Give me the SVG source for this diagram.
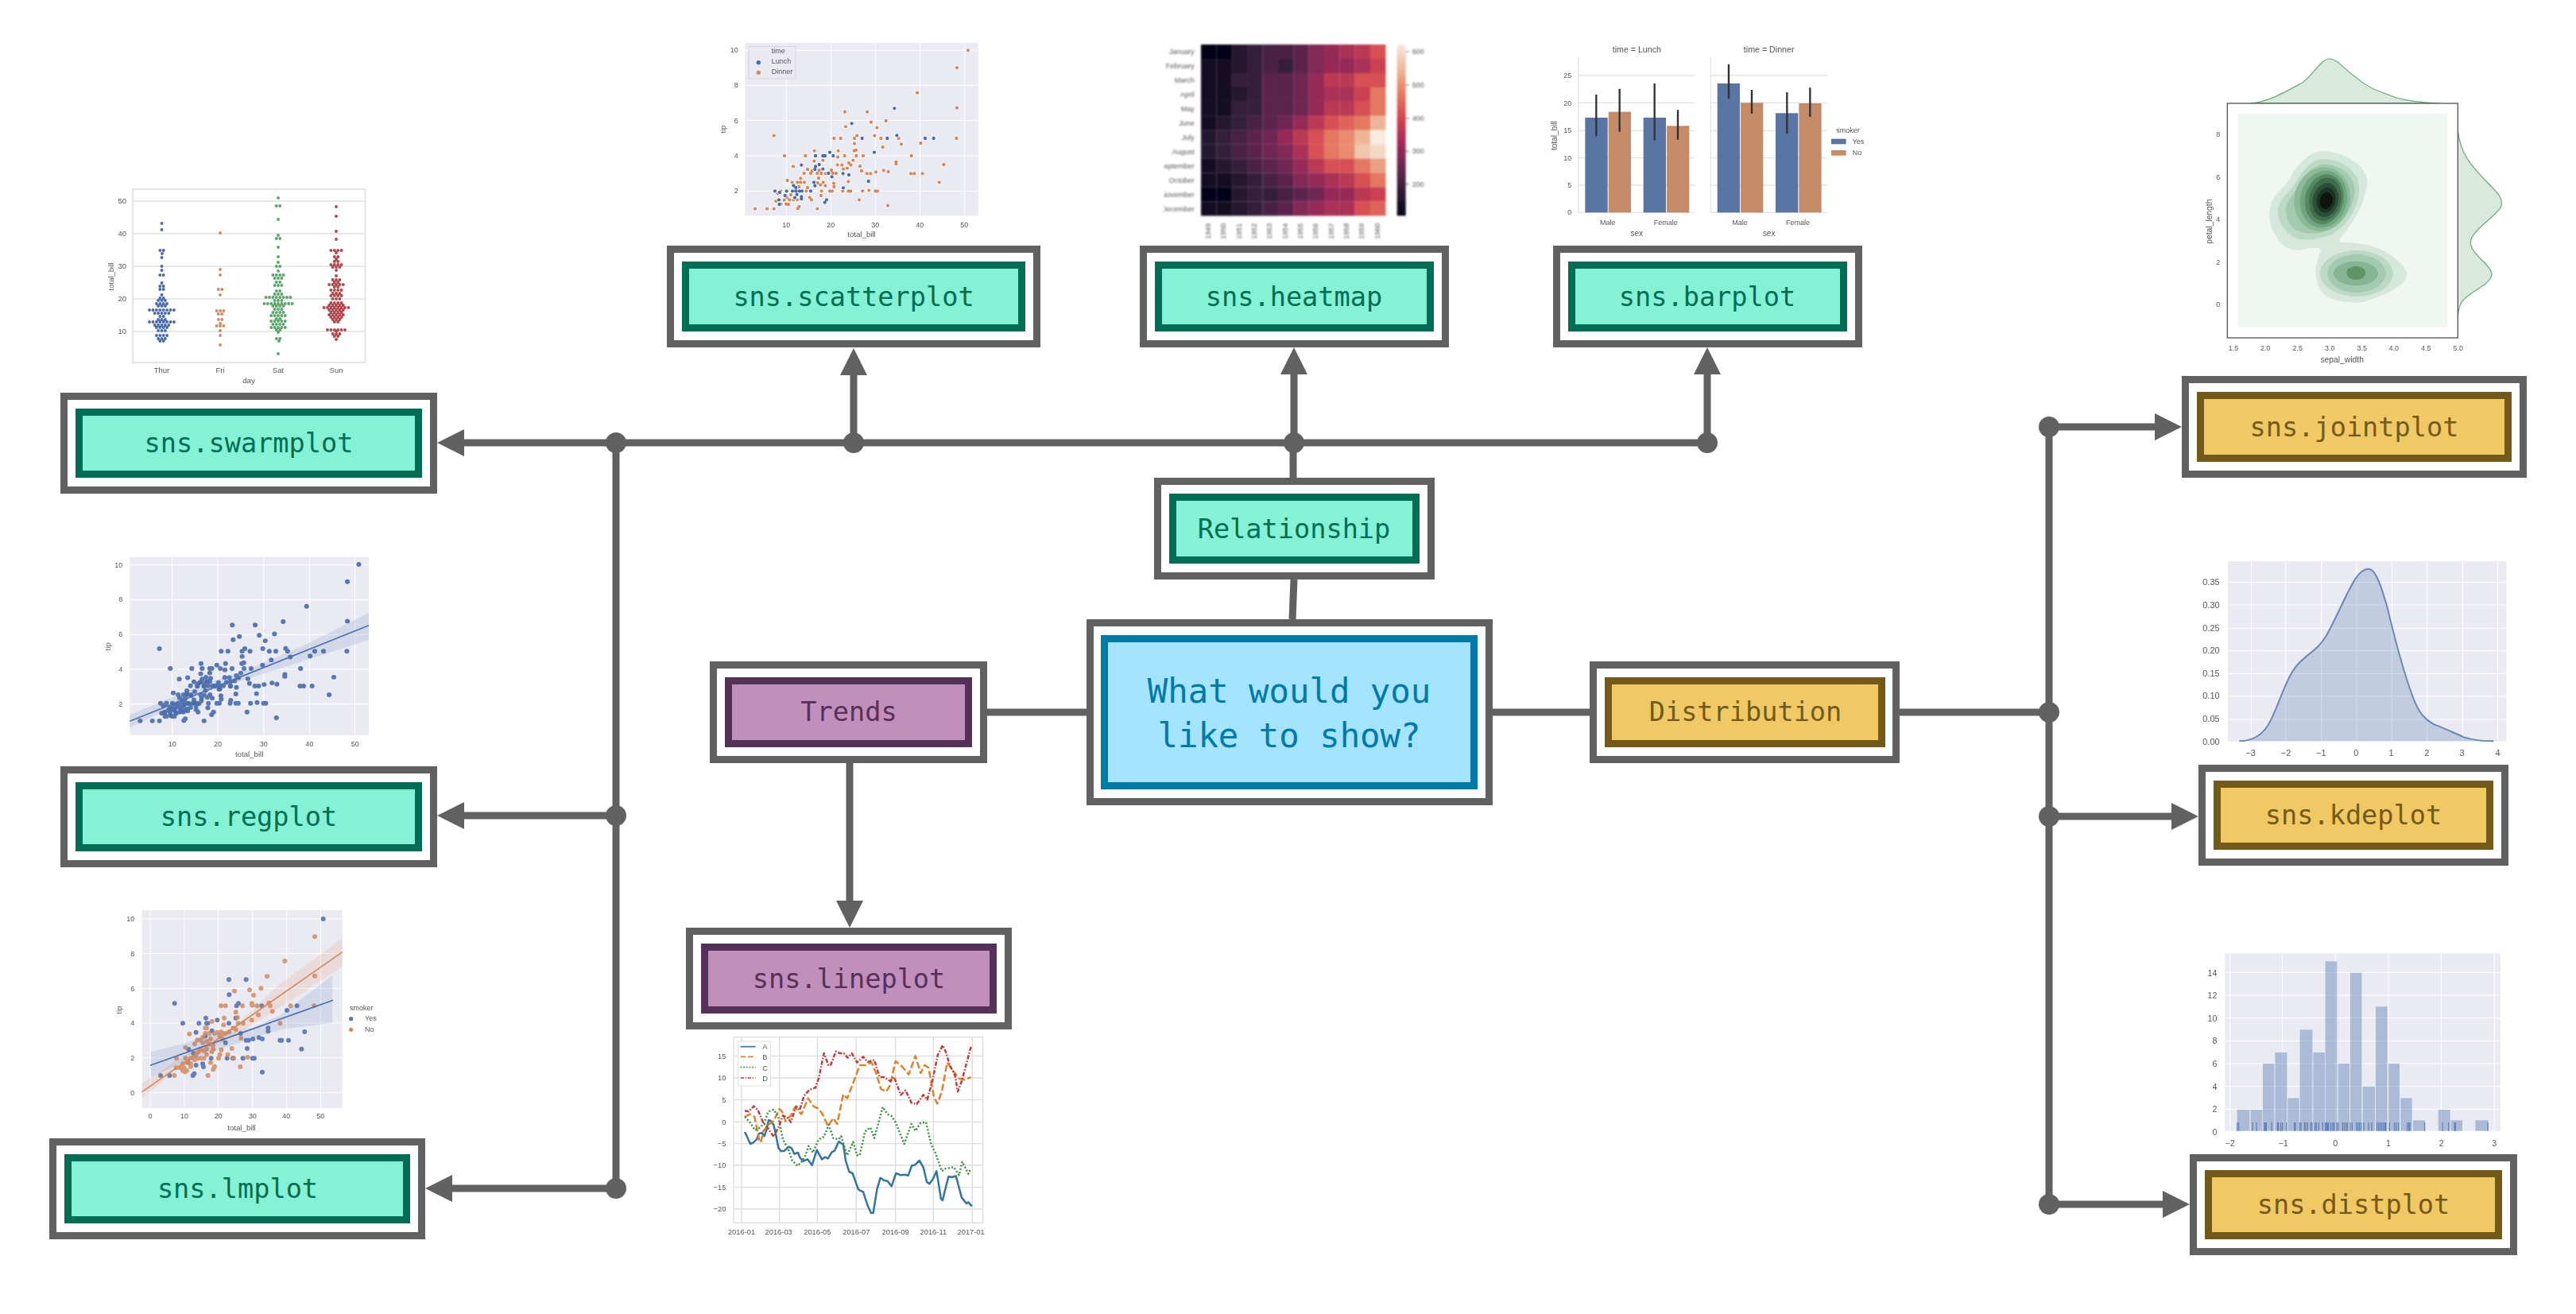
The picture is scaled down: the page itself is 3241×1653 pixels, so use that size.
<svg xmlns="http://www.w3.org/2000/svg" width="3241" height="1653" viewBox="0 0 3241 1653">
<style>
.o{fill:#fff;stroke:#616161;stroke-width:9}
.i{stroke-width:9}
.n{font-family:"DejaVu Sans Mono","Liberation Mono",monospace;font-size:33.6px;text-anchor:middle}
.gt .i{fill:#85f2d6;stroke:#006e54}.gt text{fill:#006e54}
.bl .i{fill:#a4e4ff;stroke:#007aa8}.bl text{fill:#007aa8;font-size:42.3px}
.au .i{fill:#f0c965;stroke:#745a19}.au text{fill:#745a19}
.pu .i{fill:#c18fbb;stroke:#55315a}.pu text{fill:#55315a}
.ln{fill:none;stroke:#616161;stroke-width:9}
.ar{marker-end:url(#a)}
.dot{fill:#616161}
.p text{font-family:"Liberation Sans",Arial,sans-serif;fill:#555}
.f27 text{font-size:27px}
.e{text-anchor:end}.m{text-anchor:middle}
.bg{fill:#eaeaf2}
.gw{stroke:#fff;stroke-width:3;fill:none}
.d{fill:none;stroke-linecap:round}
.ob{stroke:#4a6cab}.oo{stroke:#d28a5f}.ow{stroke:#fff}
.hm rect{width:58.6px;height:54.4px}
.l0{fill:#03051a}.l1{fill:#140c27}.l2{fill:#261333}.l3{fill:#381a40}.l4{fill:#4d1b48}.l5{fill:#611e51}.l6{fill:#761d57}.l7{fill:#8b1b58}.l8{fill:#a11959}.l9{fill:#b51b56}.l10{fill:#c7254d}.l11{fill:#d92f45}.l12{fill:#e54045}.l13{fill:#eb584a}.l14{fill:#f16f4f}.l15{fill:#f48560}.l16{fill:#f59b76}.l17{fill:#f6b28c}.l18{fill:#f7c4a6}.l19{fill:#f8d8be}.l20{fill:#faebdd}
</style>
<defs>
<marker id="a" markerUnits="userSpaceOnUse" markerWidth="34" markerHeight="34" refX="0" refY="17" orient="auto"><path d="M0 0L34 17L0 34z" fill="#616161"/></marker>
<filter id="b" x="-3%" y="-3%" width="106%" height="106%"><feGaussianBlur stdDeviation=".6"/></filter>
<filter id="bh" x="-3%" y="-3%" width="106%" height="106%"><feGaussianBlur stdDeviation="1"/><feColorMatrix type="saturate" values=".82"/></filter>
<linearGradient id="cb" x1="0" y1="0" x2="0" y2="1"><stop offset="0" stop-color="#faebdd"/><stop offset=".143" stop-color="#f6b48f"/><stop offset=".286" stop-color="#f37651"/><stop offset=".429" stop-color="#e13342"/><stop offset=".571" stop-color="#ad1759"/><stop offset=".714" stop-color="#701f57"/><stop offset=".857" stop-color="#35193e"/><stop offset="1" stop-color="#03051a"/></linearGradient>
<clipPath id="mc"><rect x="103" y="70" width="130" height="660"/></clipPath>
<path id="tO" d="M1014 100h0M972 166h0M822 260h0M972 317h0M970 432h0M549 332h0M633 332h0M704 366h0M648 371h0M552 388h0M670 392h0M281 422h0M595 422h0M661 422h0M508 432h0M533 432h0M585 432h0M685 432h0M752 432h0M585 452h0M762 454h0M692 465h0M835 450h0M321 498h0M400 498h0M434 479h0M524 479h0M548 498h0M618 498h0M800 498h0M592 498h0M584 479h0M591 476h0M466 515h0M433 518h0M522 503h0M580 515h0M564 525h0M572 533h0M742 521h0M742 528h0M922 531h0M606 537h0M354 538h0M408 549h0M452 552h0M498 552h0M521 532h0M538 533h0M543 548h0M558 545h0M612 555h0M695 553h0M713 558h0M632 565h0M646 565h0M666 559h0M798 565h0M811 565h0M842 565h0M395 564h0M420 564h0M445 564h0M460 564h0M476 565h0M503 564h0M516 564h0M425 555h0M382 583h0M450 582h0M332 591h0M350 598h0M370 598h0M382 598h0M396 598h0M562 595h0M467 598h0M507 602h0M446 600h0M457 608h0M475 611h0M408 618h0M508 615h0M375 615h0M905 598h0M403 631h0M461 631h0M492 631h0M501 631h0M541 631h0M562 631h0M571 631h0M616 631h0M640 628h0M664 631h0M672 631h0M307 631h0M350 631h0M376 631h0M459 648h0M416 655h0M423 664h0M289 669h0M320 665h0M340 664h0M355 664h0M369 664h0M603 664h0M711 686h0M308 680h0M327 680h0M336 681h0M376 690h0M371 697h0M210 698h0M255 698h0M281 698h0M445 698h0M320 648h0M345 645h0M330 655h0M295 640h0"/>
<path id="tB" d="M736 319h0M575 376h0M614 432h0M709 432h0M745 421h0M852 432h0M884 432h0M660 485h0M492 485h0M505 498h0M438 498h0M466 498h0M474 498h0M385 533h0M452 531h0M438 538h0M436 549h0M466 548h0M487 564h0M500 577h0M542 565h0M564 570h0M638 594h0M543 619h0M432 598h0M436 611h0M355 610h0M364 618h0M420 631h0M285 631h0M303 636h0M329 631h0M351 631h0M364 631h0M377 631h0M387 631h0M323 648h0M368 644h0M360 656h0M385 652h0M385 660h0M300 664h0M302 681h0M480 664h0M473 674h0"/>
</defs>
<rect width="3241" height="1653" fill="#fff"/>

<g id="connectors" class="ln">
<path d="M775 557H584" class="ar"/><path d="M775 557H2148"/>
<path d="M1074 557V472" class="ar"/><path d="M1628 557V471" class="ar"/><path d="M2148 557V471" class="ar"/>
<path d="M1627 601V557"/><path d="M1626 779L1628 729"/>
<path d="M775 557V1495"/><path d="M775 1026H584" class="ar"/><path d="M775 1495H569" class="ar"/>
<path d="M1242 896H1367"/><path d="M1878 896H2000"/><path d="M2390 896H2578"/>
<path d="M1069 960V1133" class="ar"/>
<path d="M2578 537V1515"/><path d="M2578 537H2711" class="ar"/><path d="M2578 1027H2732" class="ar"/><path d="M2578 1515H2721" class="ar"/>
<g class="dot" stroke="none"><circle cx="775" cy="557" r="13"/><circle cx="1074" cy="557" r="13"/><circle cx="1628" cy="557" r="13"/><circle cx="2148" cy="557" r="13"/><circle cx="775" cy="1026" r="13"/><circle cx="775" cy="1495" r="13"/><circle cx="2578" cy="537" r="13"/><circle cx="2578" cy="896" r="13"/><circle cx="2578" cy="1027" r="13"/><circle cx="2578" cy="1515" r="13"/></g>
</g>

<g id="center" class="bl"><rect class="o" x="1371.5" y="783.5" width="502" height="225"/><rect class="i" x="1389.5" y="803.5" width="465" height="185"/><text class="n" x="1622" y="884">What would you</text><text class="n" x="1622" y="940">like to show?</text></g>
<g id="relationship" class="gt"><rect class="o" x="1456.5" y="605.5" width="344" height="119"/><rect class="i" x="1475.5" y="625.5" width="306" height="79"/><text class="n" x="1628" y="677">Relationship</text></g>
<g id="trends" class="pu"><rect class="o" x="897.5" y="836.5" width="340" height="119"/><rect class="i" x="916.5" y="856.5" width="302" height="79"/><text class="n" x="1068" y="907">Trends</text></g>
<g id="distribution" class="au"><rect class="o" x="2004.5" y="836.5" width="381" height="119"/><rect class="i" x="2023.5" y="856.5" width="344" height="79"/><text class="n" x="2196" y="907">Distribution</text></g>
<g id="swarmplot" class="gt"><rect class="o" x="80.5" y="498.5" width="465" height="118"/><rect class="i" x="99.5" y="518.5" width="427" height="78"/><text class="n" x="313" y="569">sns.swarmplot</text></g>
<g id="regplot" class="gt"><rect class="o" x="80.5" y="968.5" width="465" height="118"/><rect class="i" x="99.5" y="988.5" width="427" height="78"/><text class="n" x="313" y="1039">sns.regplot</text></g>
<g id="lmplot" class="gt"><rect class="o" x="66.5" y="1436.5" width="464" height="118"/><rect class="i" x="85.5" y="1456.5" width="426" height="78"/><text class="n" x="299" y="1507">sns.lmplot</text></g>
<g id="scatterplot" class="gt"><rect class="o" x="843.5" y="313.5" width="461" height="119"/><rect class="i" x="862.5" y="333.5" width="423" height="79"/><text class="n" x="1074" y="385">sns.scatterplot</text></g>
<g id="heatmap" class="gt"><rect class="o" x="1438.5" y="313.5" width="380" height="119"/><rect class="i" x="1457.5" y="333.5" width="342" height="79"/><text class="n" x="1628" y="385">sns.heatmap</text></g>
<g id="barplot" class="gt"><rect class="o" x="1958.5" y="313.5" width="380" height="119"/><rect class="i" x="1977.5" y="333.5" width="342" height="79"/><text class="n" x="2148" y="385">sns.barplot</text></g>
<g id="lineplot" class="pu"><rect class="o" x="867.5" y="1171.5" width="401" height="119"/><rect class="i" x="886.5" y="1191.5" width="363" height="79"/><text class="n" x="1068" y="1243">sns.lineplot</text></g>
<g id="jointplot" class="au"><rect class="o" x="2749.5" y="477.5" width="425" height="119"/><rect class="i" x="2768.5" y="497.5" width="387" height="79"/><text class="n" x="2962" y="549">sns.jointplot</text></g>
<g id="kdeplot" class="au"><rect class="o" x="2770.5" y="966.5" width="381" height="118"/><rect class="i" x="2789.5" y="986.5" width="343" height="78"/><text class="n" x="2961" y="1037">sns.kdeplot</text></g>
<g id="distplot" class="au"><rect class="o" x="2759.5" y="1456.5" width="403" height="118"/><rect class="i" x="2778.5" y="1476.5" width="365" height="78"/><text class="n" x="2961" y="1527">sns.distplot</text></g>

<!-- swarm -->
<g id="plot-swarm" class="p" filter="url(#b)" font-size="9.5">
<rect x="167" y="238" width="292.5" height="218" fill="#fff" stroke="#ddd" stroke-width="1.5"/>
<path d="M167 253H459M167 294H459M167 335H459M167 376H459M167 417H459" stroke="#e8e8e8" stroke-width="1.8"/>
<g class="d" stroke-width="3.9" stroke-dasharray="0 4.4">
<path stroke="#4a6aa8" d="M203.5 281h.1M203.5 289h.1M201.3 315h4.5M204 319h.1M203.5 324h.1M203.5 335h.1M203.5 340h.1M201.3 346h4.5M203.5 356h.1M201.3 360h4.5M201.3 364h4.5M203.5 371h.1M201.3 375h4.5M199.1 378h8.9M196.9 382h13.3M199.1 385h8.9M188.1 390h30.9M194.7 394h17.7M201.3 398h4.5M199.1 402h8.9M188.1 405h30.9M194.7 409h17.7M196.9 412h13.3M199.1 416h8.9M196.9 422h13.3M199.1 426h8.9M201.3 429h4.5"/>
<path stroke="#cf8a60" d="M277 293h.1M277 339h.1M277 346h.1M274.8 364h4.5M277 371h.1M272.6 391h8.9M274.8 395h4.5M274.8 402h4.5M277 407h.1M272.6 410h8.9M277 416h.1M277 422h.1M277 434h.1"/>
<path stroke="#5aa56a" d="M350 249h.1M347.8 259h4.5M350 276h.1M350 296h.1M347.8 300h4.5M350 311h.1M350 323h.1M350 330h.1M347.8 335h4.5M350 341h.1M343.4 346h13.3M345.6 350h8.9M347.8 355h4.5M345.6 359h8.9M347.8 366h4.5M345.6 370h8.9M334.6 374h30.9M345.6 378h8.9M332.4 382h35.3M343.4 385h13.3M345.6 389h8.9M343.4 393h13.3M341.2 397h17.7M347.8 401h4.5M341.2 404h17.7M343.4 408h13.3M341.2 412h17.7M347.8 415h4.5M350 418h.1M347.8 426h4.5M351 429h.1M350 445h.1"/>
<path stroke="#b1474c" d="M423 260h.1M423 272h.1M423 291h.1M423 301h.1M416.4 315h13.3M423 318h.1M420.8 323h4.5M423 326h.1M420.8 329h4.5M416.4 333h13.3M418.6 336h8.9M423 340h.1M423 347h.1M418.6 352h8.9M420.8 355h4.5M414.2 358h17.7M420.8 361h4.5M416.4 365h13.3M418.6 369h8.9M416.4 372h13.3M418.6 376h8.9M416.4 381h13.3M414.2 384h17.7M407.6 387h30.9M414.2 390h17.7M416.4 393h13.3M414.2 396h17.7M416.4 399h13.3M418.6 402h8.9M420.8 405h4.5M412 415h22.1M423 417h.1M418.6 420h8.9M420.8 423h4.5M423 427h.1"/>
</g>
<g class="e"><text x="159" y="256">50</text><text x="159" y="297">40</text><text x="159" y="338">30</text><text x="159" y="379">20</text><text x="159" y="420">10</text></g>
<g class="m"><text x="203.5" y="469">Thur</text><text x="277" y="469">Fri</text><text x="350" y="469">Sat</text><text x="423" y="469">Sun</text><text x="313" y="482">day</text><text transform="translate(143 348) rotate(-90)">total_bill</text></g>
</g>

<!-- scatter -->
<g id="plot-scatter" class="p f27" filter="url(#b)"><g transform="translate(880 30) scale(.33333)">
<rect class="bg" x="172" y="72" width="880" height="652"/>
<path class="gw" d="M328 72V724M496 72V724M664 72V724M832 72V724M1000 72V724M172 100H1052M172 232H1052M172 365H1052M172 498H1052M172 631H1052"/>
<g class="d">
<use href="#tO" class="ow" stroke-width="17"/><use href="#tO" class="oo" stroke-width="13"/>
<use href="#tB" class="ow" stroke-width="17"/><use href="#tB" class="ob" stroke-width="13"/>
</g>
<rect x="186" y="85" width="177" height="122" fill="#eaeaf2" stroke="#ccc" stroke-width="2"/>
<circle cx="223" cy="146" r="8" fill="#4a6cab"/><circle cx="223" cy="184" r="8" fill="#d28a5f"/>
<text x="272" y="112">time</text><text x="272" y="151">Lunch</text><text x="272" y="190">Dinner</text>
<g class="e"><text x="146" y="108">10</text><text x="146" y="241">8</text><text x="146" y="374">6</text><text x="146" y="507">4</text><text x="146" y="640">2</text></g>
<g class="m"><text x="328" y="768">10</text><text x="496" y="768">20</text><text x="664" y="768">30</text><text x="832" y="768">40</text><text x="1000" y="768">50</text><text x="612" y="805" style="font-size:29px">total_bill</text><text transform="translate(100 398) rotate(-90)" style="font-size:29px">tip</text></g>
</g></g>

<!-- heatmap -->
<g id="plot-heatmap" class="p f27" filter="url(#bh)"><g transform="translate(1430 30) scale(.33333)">
<g class="hm">
<g transform="translate(0 78)"><rect class="l0" x="243"/><rect class="l0" x="301.1"/><rect class="l2" x="359.2"/><rect class="l3" x="417.2"/><rect class="l4" x="475.3"/><rect class="l4" x="533.4"/><rect class="l5" x="591.5"/><rect class="l7" x="649.6"/><rect class="l8" x="707.6"/><rect class="l9" x="765.7"/><rect class="l10" x="823.8"/><rect class="l12" x="881.9"/></g>
<g transform="translate(0 131.8)"><rect class="l1" x="243"/><rect class="l1" x="301.1"/><rect class="l2" x="359.2"/><rect class="l3" x="417.2"/><rect class="l4" x="475.3"/><rect class="l3" x="533.4"/><rect class="l5" x="591.5"/><rect class="l7" x="649.6"/><rect class="l8" x="707.6"/><rect class="l8" x="765.7"/><rect class="l9" x="823.8"/><rect class="l11" x="881.9"/></g>
<g transform="translate(0 185.7)"><rect class="l1" x="243"/><rect class="l1" x="301.1"/><rect class="l3" x="359.2"/><rect class="l3" x="417.2"/><rect class="l5" x="475.3"/><rect class="l5" x="533.4"/><rect class="l6" x="591.5"/><rect class="l8" x="649.6"/><rect class="l10" x="707.6"/><rect class="l10" x="765.7"/><rect class="l12" x="823.8"/><rect class="l12" x="881.9"/></g>
<g transform="translate(0 239.5)"><rect class="l1" x="243"/><rect class="l1" x="301.1"/><rect class="l2" x="359.2"/><rect class="l3" x="417.2"/><rect class="l5" x="475.3"/><rect class="l5" x="533.4"/><rect class="l6" x="591.5"/><rect class="l8" x="649.6"/><rect class="l9" x="707.6"/><rect class="l9" x="765.7"/><rect class="l11" x="823.8"/><rect class="l14" x="881.9"/></g>
<g transform="translate(0 293.3)"><rect class="l1" x="243"/><rect class="l1" x="301.1"/><rect class="l3" x="359.2"/><rect class="l3" x="417.2"/><rect class="l5" x="475.3"/><rect class="l5" x="533.4"/><rect class="l6" x="591.5"/><rect class="l8" x="649.6"/><rect class="l10" x="707.6"/><rect class="l10" x="765.7"/><rect class="l12" x="823.8"/><rect class="l14" x="881.9"/></g>
<g transform="translate(0 347.2)"><rect class="l1" x="243"/><rect class="l2" x="301.1"/><rect class="l3" x="359.2"/><rect class="l4" x="417.2"/><rect class="l5" x="475.3"/><rect class="l6" x="533.4"/><rect class="l8" x="591.5"/><rect class="l10" x="649.6"/><rect class="l12" x="707.6"/><rect class="l13" x="765.7"/><rect class="l14" x="823.8"/><rect class="l17" x="881.9"/></g>
<g transform="translate(0 401)"><rect class="l2" x="243"/><rect class="l3" x="301.1"/><rect class="l4" x="359.2"/><rect class="l5" x="417.2"/><rect class="l6" x="475.3"/><rect class="l8" x="533.4"/><rect class="l10" x="591.5"/><rect class="l12" x="649.6"/><rect class="l14" x="707.6"/><rect class="l15" x="765.7"/><rect class="l17" x="823.8"/><rect class="l20" x="881.9"/></g>
<g transform="translate(0 454.8)"><rect class="l2" x="243"/><rect class="l3" x="301.1"/><rect class="l4" x="359.2"/><rect class="l5" x="417.2"/><rect class="l6" x="475.3"/><rect class="l7" x="533.4"/><rect class="l9" x="591.5"/><rect class="l12" x="649.6"/><rect class="l14" x="707.6"/><rect class="l15" x="765.7"/><rect class="l18" x="823.8"/><rect class="l19" x="881.9"/></g>
<g transform="translate(0 508.6)"><rect class="l1" x="243"/><rect class="l2" x="301.1"/><rect class="l3" x="359.2"/><rect class="l4" x="417.2"/><rect class="l5" x="475.3"/><rect class="l6" x="533.4"/><rect class="l8" x="591.5"/><rect class="l10" x="649.6"/><rect class="l12" x="707.6"/><rect class="l12" x="765.7"/><rect class="l14" x="823.8"/><rect class="l16" x="881.9"/></g>
<g transform="translate(0 562.5)"><rect class="l1" x="243"/><rect class="l1" x="301.1"/><rect class="l2" x="359.2"/><rect class="l3" x="417.2"/><rect class="l4" x="475.3"/><rect class="l5" x="533.4"/><rect class="l7" x="591.5"/><rect class="l8" x="649.6"/><rect class="l9" x="707.6"/><rect class="l10" x="765.7"/><rect class="l12" x="823.8"/><rect class="l14" x="881.9"/></g>
<g transform="translate(0 616.3)"><rect class="l0" x="243"/><rect class="l0" x="301.1"/><rect class="l2" x="359.2"/><rect class="l3" x="417.2"/><rect class="l3" x="475.3"/><rect class="l4" x="533.4"/><rect class="l5" x="591.5"/><rect class="l6" x="649.6"/><rect class="l8" x="707.6"/><rect class="l8" x="765.7"/><rect class="l10" x="823.8"/><rect class="l11" x="881.9"/></g>
<g transform="translate(0 670.1)"><rect class="l1" x="243"/><rect class="l1" x="301.1"/><rect class="l2" x="359.2"/><rect class="l3" x="417.2"/><rect class="l4" x="475.3"/><rect class="l5" x="533.4"/><rect class="l7" x="591.5"/><rect class="l8" x="649.6"/><rect class="l9" x="707.6"/><rect class="l9" x="765.7"/><rect class="l12" x="823.8"/><rect class="l13" x="881.9"/></g>
</g>
<rect x="983" y="78" width="33" height="646" fill="url(#cb)"/>
<path d="M1016 105h12M1016 231h12M1016 356h12M1016 481h12M1016 605h12" stroke="#555" stroke-width="3"/>
<text x="1040" y="114">600</text><text x="1040" y="240">500</text><text x="1040" y="365">400</text><text x="1040" y="490">300</text><text x="1040" y="614">200</text>
<g class="e" clip-path="url(#mc)"><text x="218" y="114">January</text><text x="218" y="168">February</text><text x="218" y="222">March</text><text x="218" y="276">April</text><text x="218" y="330">May</text><text x="218" y="384">June</text><text x="218" y="438">July</text><text x="218" y="492">August</text><text x="218" y="546">September</text><text x="218" y="600">October</text><text x="218" y="654">November</text><text x="218" y="708">December</text></g>
<g class="m"><text transform="translate(279 782) rotate(-90)">1949</text><text transform="translate(337 782) rotate(-90)">1950</text><text transform="translate(395 782) rotate(-90)">1951</text><text transform="translate(453 782) rotate(-90)">1952</text><text transform="translate(511 782) rotate(-90)">1953</text><text transform="translate(569 782) rotate(-90)">1954</text><text transform="translate(627 782) rotate(-90)">1955</text><text transform="translate(685 782) rotate(-90)">1956</text><text transform="translate(743 782) rotate(-90)">1957</text><text transform="translate(801 782) rotate(-90)">1958</text><text transform="translate(859 782) rotate(-90)">1959</text><text transform="translate(917 782) rotate(-90)">1960</text></g>
</g></g>

<!-- bar -->
<g id="plot-bar" class="p f27" filter="url(#b)"><g transform="translate(1940 50) scale(.33333)">
<path d="M138 135H578M138 238H578M138 343H578M138 446H578M138 549H578M637 135H1078M637 238H1078M637 343H1078M637 446H1078M637 549H1078M138 68V652H578M637 68V652H1078" fill="none" stroke="#e2e2e2" stroke-width="4"/>
<g fill="#5975a4"><rect x="163" y="294" width="85" height="358"/><rect x="383" y="294" width="85" height="358"/><rect x="662" y="165" width="85" height="487"/><rect x="882" y="277" width="85" height="375"/></g>
<g fill="#c58b66"><rect x="251" y="272" width="85" height="380"/><rect x="471" y="325" width="85" height="327"/><rect x="750" y="238" width="85" height="414"/><rect x="970" y="240" width="85" height="412"/></g>
<path d="M205 207V364M293 185V347M425 165V380M513 265V377M705 93V223M792 189V279M925 198V355M1012 181V291" stroke="#333" stroke-width="7"/>
<g class="m"><text x="358" y="49" style="font-size:32px">time = Lunch</text><text x="857" y="49" style="font-size:32px">time = Dinner</text><text x="248" y="698">Male</text><text x="467" y="698">Female</text><text x="747" y="698">Male</text><text x="966" y="698">Female</text><text x="358" y="740" style="font-size:30px">sex</text><text x="857" y="740" style="font-size:30px">sex</text><text x="1155" y="350">smoker</text><text transform="translate(58 362) rotate(-90)" style="font-size:30px">total_bill</text></g>
<g class="e"><text x="112" y="661">0</text><text x="112" y="558">5</text><text x="112" y="456">10</text><text x="112" y="352">15</text><text x="112" y="248">20</text><text x="112" y="145">25</text></g>
<rect x="1092" y="374" width="56" height="20" fill="#5975a4"/><rect x="1092" y="417" width="56" height="20" fill="#c58b66"/>
<text x="1172" y="394">Yes</text><text x="1172" y="436">No</text>
</g></g>

<!-- joint -->
<g id="plot-joint" class="p f27" filter="url(#b)"><g transform="translate(2760 0) scale(.33333)">
<path d="M215 390C280 385 340 350 410 312C450 285 480 222 512 222C545 222 570 265 610 290C650 325 680 340 720 352C770 375 820 385 930 390Z" fill="#d9e9de" stroke="#6aa878" stroke-width="3.5"/>
<path d="M997 490C1005 580 1050 630 1110 690C1150 730 1170 750 1160 780C1150 810 1045 870 1045 915C1045 960 1125 1000 1125 1035C1120 1075 1060 1090 1020 1130C1000 1150 997 1180 997 1220Z" fill="#d9e9de" stroke="#6aa878" stroke-width="3.5"/>
<rect x="127" y="390" width="870" height="885" fill="#fff" stroke="#555" stroke-width="4"/>
<rect x="167" y="430" width="791" height="806" fill="#f0f7f1"/>
<path fill="#d6e8dc" d="M490 570C560 572 650 620 655 680C655 740 620 810 590 850C570 885 540 905 555 915C620 915 690 925 740 960C780 990 810 1020 805 1040C790 1090 700 1120 640 1140C590 1145 500 1140 475 1090C450 1040 460 990 480 945C480 930 440 935 420 940C370 955 330 930 310 890C280 850 280 790 295 760C320 720 350 700 370 660C400 610 440 570 490 570Z"/>
<path fill="#bcd9c5" d="M490 600C550 600 625 640 625 710C625 790 570 860 520 885C470 905 400 915 370 890C330 860 310 820 320 780C330 740 370 720 390 680C420 630 450 600 490 600Z"/>
<path fill="#a3caaf" d="M495 620C550 622 608 660 608 720C605 790 550 860 490 875C440 890 380 880 360 840C340 800 345 770 370 740C400 700 430 620 495 620Z"/>
<ellipse cx="485" cy="752" rx="105" ry="122" transform="rotate(14 485 752)" fill="#8bba98"/>
<ellipse cx="490" cy="752" rx="88" ry="108" transform="rotate(13 490 752)" fill="#6fa57f"/>
<ellipse cx="493" cy="752" rx="72" ry="95" transform="rotate(12 493 752)" fill="#54885f"/>
<ellipse cx="497" cy="752" rx="60" ry="82" transform="rotate(12 497 752)" fill="#3f6e4c"/>
<ellipse cx="498" cy="755" rx="48" ry="65" transform="rotate(12 498 755)" fill="#2c4f37"/>
<ellipse cx="500" cy="755" rx="35" ry="48" transform="rotate(12 500 755)" fill="#1c3323"/>
<ellipse cx="500" cy="757" rx="24" ry="32" transform="rotate(12 500 757)" fill="#0b140e"/>
<ellipse cx="615" cy="1032" rx="138" ry="87" fill="#bcd9c5"/><ellipse cx="615" cy="1032" rx="110" ry="72" fill="#a3caaf"/><ellipse cx="612" cy="1032" rx="84" ry="46" fill="#87b594"/><ellipse cx="613" cy="1030" rx="36" ry="26" fill="#5e9468"/>
<g class="m"><text x="150" y="1322">1.5</text><text x="271" y="1322">2.0</text><text x="392" y="1322">2.5</text><text x="514" y="1322">3.0</text><text x="635" y="1322">3.5</text><text x="755" y="1322">4.0</text><text x="877" y="1322">4.5</text><text x="998" y="1322">5.0</text><text x="560" y="1368" style="font-size:31px">sepal_width</text><text x="92" y="516">8</text><text x="92" y="678">6</text><text x="92" y="838">4</text><text x="92" y="999">2</text><text x="92" y="1159">0</text><text transform="translate(68 836) rotate(-90)" style="font-size:31px">petal_length</text></g>
</g></g>

<!-- kde -->
<g id="plot-kde" class="p" filter="url(#b)" font-size="33"><g transform="translate(2740 690) scale(.33333)">
<rect class="bg" x="189" y="48" width="1051" height="680"/>
<path class="gw" d="M277 48V728M407 48V728M542 48V728M675 48V728M808 48V728M941 48V728M1075 48V728M1207 48V728M189 128H1240M189 213H1240M189 301H1240M189 386H1240M189 472H1240M189 558H1240M189 645H1240"/>
<path d="M232 727C280 725 320 710 350 650C390 570 410 480 460 430C500 390 530 380 560 330C600 260 640 160 670 115C690 85 710 75 725 78C750 85 770 150 790 220C810 300 840 430 880 540C900 600 920 640 970 665C1010 680 1040 695 1080 712C1120 725 1160 727 1192 727" fill="#4c72b0" fill-opacity=".25" stroke="#6a88b6" stroke-width="6"/>
<g class="e"><text x="158" y="138">0.35</text><text x="158" y="225">0.30</text><text x="158" y="311">0.25</text><text x="158" y="396">0.20</text><text x="158" y="482">0.15</text><text x="158" y="568">0.10</text><text x="158" y="654">0.05</text><text x="158" y="741">0.00</text></g>
<g class="m"><text x="275" y="784">−3</text><text x="408" y="784">−2</text><text x="541" y="784">−1</text><text x="673" y="784">0</text><text x="806" y="784">1</text><text x="940" y="784">2</text><text x="1073" y="784">3</text><text x="1208" y="784">4</text></g>
</g></g>

<!-- dist -->
<g id="plot-dist" class="p" filter="url(#b)" font-size="32"><g transform="translate(2760 1180) scale(.33333)">
<rect class="bg" x="118" y="58" width="1040" height="670"/>
<path class="gw" d="M137 58V728M335 58V728M535 58V728M735 58V728M934 58V728M1135 58V728M118 130H1158M118 216H1158M118 302H1158M118 388H1158M118 474H1158M118 560H1158M118 646H1158"/>
<g fill="#4c72b0" fill-opacity=".4"><rect x="164" y="648" width="47" height="80"/><rect x="215" y="648" width="44" height="80"/><rect x="261" y="474" width="43" height="254"/><rect x="307" y="432" width="45" height="296"/><rect x="355" y="604" width="43" height="124"/><rect x="401" y="346" width="47" height="382"/><rect x="451" y="432" width="44" height="296"/><rect x="497" y="88" width="44" height="640"/><rect x="545" y="474" width="43" height="254"/><rect x="591" y="131" width="43" height="597"/><rect x="638" y="560" width="46" height="168"/><rect x="687" y="259" width="44" height="469"/><rect x="735" y="474" width="42" height="254"/><rect x="781" y="604" width="43" height="124"/><rect x="828" y="688" width="45" height="40"/><rect x="923" y="648" width="45" height="80"/><rect x="971" y="688" width="43" height="40"/><rect x="1063" y="688" width="49" height="40"/></g>
<path d="M164 696V728M170 696V728M222 696V728M237 696V728M267 696V728M270 696V728M274 696V728M294 696V728M316 696V728M320 696V728M329 696V728M335 696V728M350 696V728M380 696V728M384 696V728M400 696V728M405 696V728M418 696V728M423 696V728M430 696V728M442 696V728M447 696V728M458 696V728M463 696V728M472 696V728M487 696V728M497 696V728M501 696V728M505 696V728M509 696V728M518 696V728M525 696V728M530 696V728M540 696V728M545 696V728M562 696V728M568 696V728M575 696V728M580 696V728M591 696V728M598 696V728M614 696V728M620 696V728M626 696V728M632 696V728M642 696V728M660 696V728M672 696V728M692 696V728M698 696V728M704 696V728M710 696V728M716 696V728M722 696V728M725 696V728M739 696V728M758 696V728M765 696V728M773 696V728M806 696V728M812 696V728M816 696V728M872 696V728M939 696V728M962 696V728M985 696V728M988 696V728M1110 696V728" stroke="#4c72b0" stroke-opacity=".85" stroke-width="3.5"/>
<g class="e"><text x="88" y="143">14</text><text x="88" y="228">12</text><text x="88" y="314">10</text><text x="88" y="400">8</text><text x="88" y="486">6</text><text x="88" y="572">4</text><text x="88" y="658">2</text><text x="88" y="743">0</text></g>
<g class="m"><text x="137" y="785">−2</text><text x="338" y="785">−1</text><text x="535" y="785">0</text><text x="735" y="785">1</text><text x="935" y="785">2</text><text x="1135" y="785">3</text></g>
</g></g>

<!-- line -->
<g id="plot-line" class="p" filter="url(#b)" font-size="28"><g transform="translate(860 1290) scale(.33333)">
<rect x="189" y="44" width="941" height="701" fill="#fff" stroke="#ddd" stroke-width="4"/>
<path d="M219 44V745M362 44V745M505 44V745M652 44V745M800 44V745M943 44V745M1090 44V745M189 115H1130M189 198H1130M189 281H1130M189 364H1130M189 446H1130M189 528H1130M189 611H1130M189 693H1130" fill="none" stroke="#ddd" stroke-width="4"/>
<g fill="none" stroke-linejoin="round" stroke-width="7.5">
<polyline stroke="#3274a1" points="231,402 240,420 252,447 262,443 276,430 285,408 296,406 305,418 313,395 321,358 329,360 340,375 350,420 358,462 368,475 380,473 398,458 408,463 418,485 432,480 440,500 452,512 468,505 485,527 503,470 522,505 535,497 545,502 560,478 570,473 586,438 603,450 612,510 625,552 638,558 660,620 678,628 695,680 708,708 716,708 730,620 743,575 757,585 770,587 785,607 802,558 820,565 835,563 848,566 862,528 873,527 890,510 905,535 918,590 928,598 942,578 955,550 972,655 978,660 985,630 1000,570 1012,573 1028,568 1050,650 1068,672 1075,667 1088,682"/>
<polyline stroke="#e1812c" stroke-dasharray="26 10" points="231,345 250,335 268,345 285,430 292,442 300,400 320,375 340,360 362,315 372,325 385,362 405,340 420,310 445,335 470,275 490,305 510,315 525,335 545,380 565,350 580,372 603,260 618,275 640,218 665,150 688,150 710,140 725,175 745,240 765,250 780,225 800,135 825,155 850,185 875,115 895,180 910,150 925,160 945,270 958,295 975,250 995,140 1020,175 1040,200 1060,205 1085,195"/>
<polyline stroke="#3a923a" stroke-dasharray="6 7" points="231,345 250,365 270,395 290,385 305,365 320,325 340,318 358,345 375,430 395,465 410,510 430,530 445,515 460,490 472,455 488,480 510,430 530,420 548,375 565,425 585,430 595,418 618,490 640,440 655,490 665,490 685,400 705,385 720,425 752,308 770,335 785,342 800,365 833,447 860,372 875,398 895,368 915,365 935,450 950,480 975,550 990,540 1020,535 1040,565 1052,515 1075,560 1085,540"/>
<polyline stroke="#c03d3e" stroke-dasharray="16 6 5 6" points="231,322 245,325 265,305 280,318 300,365 320,390 340,420 358,385 375,340 395,350 405,365 425,305 438,320 455,265 475,243 498,235 510,200 530,105 547,150 555,150 575,98 590,105 605,105 620,122 635,105 655,140 678,118 695,138 720,130 740,195 757,195 780,210 795,195 820,262 838,245 860,292 880,297 905,262 920,280 940,205 960,110 978,75 990,100 1005,150 1025,190 1035,250 1050,210 1085,80"/>
</g>
<rect x="206" y="60" width="122" height="168" fill="#fff" stroke="#ddd" stroke-width="3"/>
<g fill="none" stroke-width="5"><path d="M215 80H272" stroke="#3274a1"/><path d="M215 118H272" stroke="#e1812c" stroke-dasharray="20 8"/><path d="M215 158H272" stroke="#3a923a" stroke-dasharray="5 6"/><path d="M215 198H272" stroke="#c03d3e" stroke-dasharray="13 5 4 5"/></g>
<text x="298" y="90">A</text><text x="298" y="130">B</text><text x="298" y="170">C</text><text x="298" y="209">D</text>
<g class="e"><text x="160" y="125">15</text><text x="160" y="208">10</text><text x="160" y="291">5</text><text x="160" y="374">0</text><text x="160" y="456">−5</text><text x="160" y="538">−10</text><text x="160" y="621">−15</text><text x="160" y="703">−20</text></g>
<g class="m"><text x="219" y="790">2016-01</text><text x="359" y="790">2016-03</text><text x="505" y="790">2016-05</text><text x="652" y="790">2016-07</text><text x="800" y="790">2016-09</text><text x="943" y="790">2016-11</text><text x="1085" y="790">2017-01</text></g>
</g></g>

<!-- reg -->
<g id="plot-reg" class="p f27" filter="url(#b)"><g transform="translate(120 690) scale(.33333)">
<rect class="bg" x="130" y="32" width="902" height="673"/>
<path class="gw" d="M290 32V705M462 32V705M635 32V705M808 32V705M980 32V705M130 62H1032M130 193H1032M130 325H1032M130 456H1032M130 587H1032"/>
<g class="d ob" stroke-width="18" opacity=".9"><use href="#tO" transform="matrix(1.0268 0 0 .988 -46.8 -39)"/><use href="#tB" transform="matrix(1.0268 0 0 .988 -46.8 -39)"/></g>
<path class="d ob" stroke-width="18" opacity=".9" d="M262 620h0M275 610h0M285 630h0M298 605h0M305 622h0M318 600h0M325 615h0M335 590h0M340 610h0M352 585h0M360 600h0M372 583h0M380 595h0M392 585h0M400 575h0M345 550h0M362 555h0M375 540h0M385 520h0M395 505h0M410 520h0M420 500h0M435 490h0M450 520h0M470 530h0M495 505h0M510 520h0M290 605h0M300 590h0"/>
<polygon points="130,628 400,515 580,455 800,360 1032,242 1032,345 800,420 580,490 400,548 130,676" fill="#4c72b0" fill-opacity=".15"/>
<path d="M130 652L1032 290" stroke="#4c72b0" stroke-width="5"/>
<g class="e"><text x="103" y="71">10</text><text x="103" y="202">8</text><text x="103" y="334">6</text><text x="103" y="465">4</text><text x="103" y="596">2</text></g>
<g class="m"><text x="290" y="747">10</text><text x="462" y="747">20</text><text x="635" y="747">30</text><text x="808" y="747">40</text><text x="980" y="747">50</text><text x="581" y="786" style="font-size:29px">total_bill</text><text transform="translate(58 370) rotate(-90)" style="font-size:29px">tip</text></g>
</g></g>

<!-- lm -->
<g id="plot-lm" class="p f27" filter="url(#b)"><g transform="translate(120 1130) scale(.33333)">
<rect class="bg" x="176" y="45" width="756" height="747"/>
<path class="gw" d="M207 45V792M336 45V792M464 45V792M593 45V792M721 45V792M850 45V792M176 78H932M176 209H932M176 340H932M176 471H932M176 602H932M176 733H932"/>
<g class="d" stroke-width="18">
<path opacity=".85" class="ob" d="M860 78h0M504 307h0M569 307h0M505 364h0M299 397h0M540 397h0M533 406h0M628 406h0M761 406h0M723 423h0M330 472h0M391 472h0M417 452h0M420 472h0M424 472h0M460 460h0M504 472h0M530 452h0M380 506h0M548 510h0M569 536h0M578 536h0M595 531h0M617 526h0M630 531h0M652 490h0M652 502h0M697 536h0M703 536h0M729 536h0M790 504h0M778 569h0M573 567h0M491 545h0M352 570h0M370 585h0M437 604h0M497 604h0M519 604h0M557 604h0M593 604h0M600 604h0M630 656h0M246 669h0M280 669h0M368 669h0M373 662h0M405 625h0M408 636h0M350 620h0M380 630h0M440 500h0M415 520h0"/>
<path opacity=".85" class="oo" d="M828 145h0M715 237h0M648 295h0M828 293h0M625 340h0M525 350h0M582 346h0M597 366h0M591 397h0M592 404h0M610 406h0M655 395h0M660 406h0M668 427h0M737 406h0M825 406h0M474 406h0M491 406h0M555 406h0M615 440h0M590 460h0M697 472h0M558 472h0M539 472h0M530 430h0M536 450h0M486 452h0M484 478h0M440 465h0M420 490h0M430 510h0M415 490h0M475 505h0M490 510h0M505 505h0M520 490h0M530 495h0M460 506h0M450 510h0M415 510h0M405 525h0M395 535h0M385 535h0M375 550h0M355 512h0M340 563h0M435 530h0M420 540h0M405 545h0M432 550h0M444 555h0M550 528h0M470 520h0M480 530h0M515 567h0M475 572h0M445 570h0M420 570h0M440 580h0M410 575h0M398 572h0M388 580h0M380 590h0M360 604h0M372 604h0M385 604h0M398 604h0M410 604h0M420 590h0M306 604h0M340 604h0M347 620h0M330 625h0M320 640h0M305 640h0M335 640h0M345 650h0M360 635h0M375 610h0M465 604h0M470 590h0M500 590h0M522 604h0M575 600h0M435 620h0M450 635h0M445 646h0M547 636h0M298 669h0M425 669h0M338 655h0M330 650h0M360 625h0"/>
</g>
<polygon points="210,580 330,550 450,510 520,505 590,490 700,440 895,290 895,470 700,495 560,540 470,570 330,620 210,675" fill="#4c72b0" fill-opacity=".15"/>
<polygon points="176,700 340,590 440,530 540,470 700,320 932,152 932,258 700,410 540,510 440,565 340,620 176,755" fill="#dd8452" fill-opacity=".15"/>
<path d="M207 631L897 385" stroke="#4a6cab" stroke-width="5"/><path d="M176 731L932 203" stroke="#d28a5f" stroke-width="5"/>
<circle cx="965" cy="455" r="8" fill="#5975a4"/><circle cx="965" cy="496" r="8" fill="#d28a5f"/>
<text x="960" y="422">smoker</text><text x="1017" y="462">Yes</text><text x="1017" y="503">No</text>
<g class="e"><text x="148" y="88">10</text><text x="148" y="219">8</text><text x="148" y="350">6</text><text x="148" y="481">4</text><text x="148" y="612">2</text><text x="148" y="743">0</text></g>
<g class="m"><text x="207" y="832">0</text><text x="336" y="832">10</text><text x="464" y="832">20</text><text x="593" y="832">30</text><text x="721" y="832">40</text><text x="850" y="832">50</text><text x="552" y="875" style="font-size:29px">total_bill</text><text transform="translate(100 422) rotate(-90)" style="font-size:29px">tip</text></g>
</g></g>
</svg>
